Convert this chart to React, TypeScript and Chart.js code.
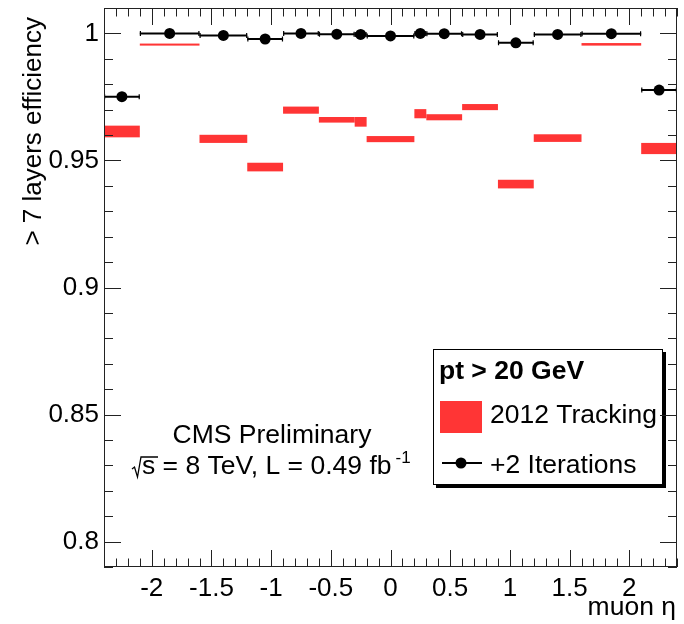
import React, { useEffect, useRef } from "react";
import { Chart, registerables } from "chart.js";
Chart.register(...registerables);

// ---- data ----
const binEdges = [-2.4, -2.1, -1.6, -1.2, -0.9, -0.6, -0.3, -0.2, 0.2, 0.3, 0.6, 0.9, 1.2, 1.6, 2.1, 2.4];
const iterEff = [0.9751, 1.0, 0.9992, 0.9978, 1.0, 0.9997, 0.9996, 0.999, 1.0, 0.9999, 0.9996, 0.9963, 0.9996, 0.9999, 0.9777];
const trackEff = [0.9614, 0.9956, 0.9585, 0.9474, 0.9698, 0.966, 0.9652, 0.9584, 0.9684, 0.967, 0.971, 0.9407, 0.9588, 0.9957, 0.9547];
const trackErr = [0.0023, 0.0004, 0.0016, 0.0017, 0.0014, 0.0011, 0.0019, 0.0012, 0.0018, 0.0012, 0.0012, 0.0017, 0.0015, 0.0005, 0.0022];
const xTickValues = [-2, -1.5, -1, -0.5, 0, 0.5, 1, 1.5, 2];
const yTickValues = [0.8, 0.85, 0.9, 0.95, 1];
const xRange = [-2.4, 2.4];
const yRange = [0.79, 1.01];
const xMinorStep = 0.1;
const yMinorStep = 0.01;

const RED = "#ff3535";
const FONT = "'Liberation Sans', Arial, Helvetica, sans-serif";
const FS = 26;
const FT = 26.5;

const binCenters = binEdges.slice(0, -1).map((e, i) => (e + binEdges[i + 1]) / 2);

const bandsPlugin = {
  id: "bands",
  beforeDatasetsDraw(chart: any) {
    const { ctx, scales } = chart;
    const x = scales.x, y = scales.y;
    ctx.save();
    ctx.fillStyle = RED;
    for (let i = 0; i < trackEff.length; i++) {
      const x0 = x.getPixelForValue(binEdges[i]);
      const x1 = x.getPixelForValue(binEdges[i + 1]);
      const y0 = y.getPixelForValue(trackEff[i] + trackErr[i]);
      const y1 = y.getPixelForValue(trackEff[i] - trackErr[i]);
      const h = Math.max(y1 - y0, 2);
      ctx.fillRect(x0, (y0 + y1) / 2 - h / 2, x1 - x0, h);
    }
    ctx.strokeStyle = "#000";
    for (let i = 0; i < iterEff.length; i++) {
      const x0 = x.getPixelForValue(binEdges[i]);
      const x1 = x.getPixelForValue(binEdges[i + 1]);
      const yy = y.getPixelForValue(iterEff[i]);
      ctx.lineWidth = 2;
      ctx.beginPath();
      ctx.moveTo(x0, yy);
      ctx.lineTo(x1, yy);
      ctx.stroke();
      ctx.lineWidth = 1.2;
      ctx.beginPath();
      ctx.moveTo(x0 + 0.6, yy - 2.5);
      ctx.lineTo(x0 + 0.6, yy + 2.5);
      ctx.moveTo(x1 - 0.6, yy - 2.5);
      ctx.lineTo(x1 - 0.6, yy + 2.5);
      ctx.stroke();
    }
    ctx.restore();
  },
};

const decorPlugin = {
  id: "decor",
  afterDraw(chart: any) {
    const { ctx, chartArea, scales } = chart;
    const { left, right, top, bottom } = chartArea;
    const x = scales.x, y = scales.y;
    ctx.save();

    // legend box with shadow
    const lx = 433, ly = 349, lw = 230, lh = 136;
    ctx.fillStyle = "#000";
    ctx.fillRect(lx + 3, ly + 3, lw, lh);
    ctx.fillStyle = "#fff";
    ctx.fillRect(lx, ly, lw, lh);
    ctx.strokeStyle = "#000";
    ctx.lineWidth = 1;
    ctx.strokeRect(lx + 0.5, ly + 0.5, lw - 1, lh - 1);
    ctx.fillStyle = "#000";
    ctx.textAlign = "left";
    ctx.textBaseline = "alphabetic";
    ctx.font = `bold ${FT}px ${FONT}`;
    ctx.fillText("pt > 20 GeV", 439, 379);
    ctx.font = `${FT}px ${FONT}`;
    ctx.fillStyle = RED;
    ctx.fillRect(440, 401, 42, 32);
    ctx.fillStyle = "#000";
    ctx.fillText("2012 Tracking", 490, 423);
    ctx.lineWidth = 2;
    ctx.beginPath();
    ctx.moveTo(442, 463);
    ctx.lineTo(482, 463);
    ctx.stroke();
    ctx.beginPath();
    ctx.arc(461, 463, 5.5, 0, Math.PI * 2);
    ctx.fill();
    ctx.fillText("+2 Iterations", 490, 473);

    // CMS text
    ctx.textAlign = "center";
    ctx.fillText("CMS Preliminary", 272, 443);
    ctx.textAlign = "left";
    const main = "s = 8 TeV, L = 0.49 fb";
    const sx = 142;
    ctx.fillText(main, sx, 474);
    const w = ctx.measureText(main).width;
    ctx.font = `17px ${FONT}`;
    ctx.fillText("-1", sx + w + 4, 463);
    // radical sign
    ctx.lineWidth = 1.3;
    ctx.beginPath();
    ctx.moveTo(132, 469);
    ctx.lineTo(134.5, 467);
    ctx.lineTo(137.5, 477);
    ctx.lineTo(141, 457);
    ctx.lineTo(158, 457);
    ctx.stroke();

    // axis titles
    ctx.font = `${FT}px ${FONT}`;
    ctx.textAlign = "right";
    ctx.fillText("muon \u03b7", 676, 615);
    ctx.save();
    ctx.translate(41, 17);
    ctx.rotate(-Math.PI / 2);
    ctx.textAlign = "right";
    ctx.textBaseline = "alphabetic";
    ctx.font = `${FS}px ${FONT}`;
    ctx.fillText("> 7 layers efficiency", 0, 0);
    ctx.restore();

    // frame and ticks
    ctx.strokeStyle = "#222";
    ctx.lineWidth = 1;
    ctx.strokeRect(left + 0.5, top + 0.5, right - left - 1, bottom - top - 1);
    ctx.beginPath();
    const nY = Math.round((yRange[1] - yRange[0]) / yMinorStep);
    for (let k = 0; k <= nY; k++) {
      const v = yRange[0] + k * yMinorStep;
      const major = yTickValues.some((t) => Math.abs(t - v) < 1e-6);
      const len = major ? 17 : 9;
      const py = Math.round(y.getPixelForValue(v)) + 0.5;
      ctx.moveTo(left, py);
      ctx.lineTo(left + len, py);
      ctx.moveTo(right, py);
      ctx.lineTo(right - len, py);
    }
    const nX = Math.round((xRange[1] - xRange[0]) / xMinorStep);
    for (let k = 0; k <= nX; k++) {
      const v = xRange[0] + k * xMinorStep;
      const major = xTickValues.some((t) => Math.abs(t - v) < 1e-6);
      const len = major ? 17 : 8.5;
      const px = Math.round(x.getPixelForValue(v)) + 0.5;
      ctx.moveTo(px, bottom);
      ctx.lineTo(px, bottom - len);
      ctx.moveTo(px, top);
      ctx.lineTo(px, top + len);
    }
    ctx.stroke();
    ctx.restore();
  },
};

function fmt(v: number) {
  return String(Math.round(v * 1000) / 1000);
}

export default function App() {
  const ref = useRef<HTMLCanvasElement | null>(null);
  useEffect(() => {
    if (!ref.current) return;
    Chart.defaults.font.family = FONT;
    const chart = new Chart(ref.current, {
      type: "scatter",
      data: {
        datasets: [
          {
            label: "+2 Iterations",
            data: binCenters.map((c, i) => ({ x: c, y: iterEff[i] })),
            backgroundColor: "#000",
            borderColor: "#000",
            borderWidth: 0,
            pointRadius: 5.5,
            pointHoverRadius: 5.5,
          },
        ],
      },
      options: {
        animation: false,
        responsive: false,
        devicePixelRatio: 1,
        layout: { padding: { left: 0, right: 7, top: 8, bottom: 0 } },
        plugins: { legend: { display: false }, tooltip: { enabled: false } },
        scales: {
          x: {
            type: "linear",
            min: xRange[0],
            max: xRange[1],
            grid: { display: false, drawTicks: false },
            border: { display: false },
            afterBuildTicks: (s: any) => {
              s.ticks = xTickValues.map((v) => ({ value: v }));
            },
            afterFit: (s: any) => {
              s.height = 57;
              s.paddingLeft = 0;
              s.paddingRight = 0;
            },
            ticks: {
              autoSkip: false,
              maxRotation: 0,
              padding: 6,
              color: "#000",
              font: { size: FS, family: FONT },
              callback: (v: any) => fmt(Number(v)),
            },
          },
          y: {
            type: "linear",
            min: yRange[0],
            max: yRange[1],
            grid: { display: false, drawTicks: false },
            border: { display: false },
            afterBuildTicks: (s: any) => {
              s.ticks = yTickValues.map((v) => ({ value: v }));
            },
            afterFit: (s: any) => {
              s.width = 104;
              s.paddingTop = 0;
              s.paddingBottom = 0;
            },
            ticks: {
              autoSkip: false,
              padding: 5,
              color: "#000",
              font: { size: FS, family: FONT },
              callback: (v: any) => fmt(Number(v)),
            },
          },
        },
      },
      plugins: [bandsPlugin, decorPlugin],
    });
    return () => chart.destroy();
  }, []);
  return (
    <div style={{ position: "absolute", left: 0, top: 0, width: 684, height: 624, background: "#fff" }}>
      <canvas ref={ref} width={684} height={624} style={{ display: "block" }} />
    </div>
  );
}
